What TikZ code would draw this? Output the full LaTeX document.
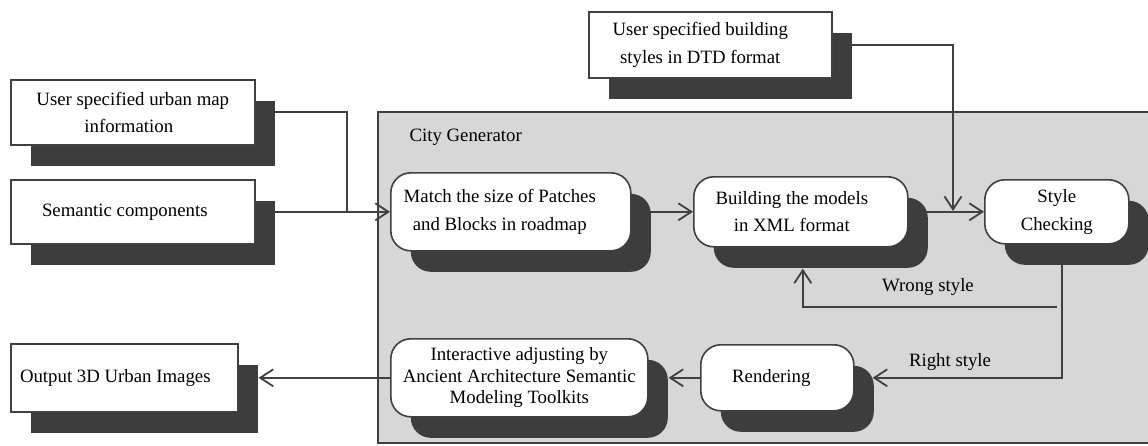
\documentclass[tikz,border=0pt]{standalone}
\usepackage{fontspec}
\setmainfont{Liberation Serif}
\usetikzlibrary{arrows.meta,shadows,calc}
\pgfdeclarelayer{bg}
\pgfdeclarelayer{lines}
\pgfsetlayers{bg,lines,main}
\definecolor{linec}{RGB}{64,64,64}
\definecolor{shadowc}{RGB}{61,61,61}
\definecolor{graybg}{RGB}{215,215,215}
\begin{document}
\begin{tikzpicture}[x=1pt,y=-1pt,
  txt/.style={font=\fontsize{18.8}{27.5}\selectfont, text=black},
  sqbox/.style={txt, draw=linec, line width=1.6pt, fill=white, anchor=north west,
    align=center, inner sep=0pt,
    drop shadow={shadow xshift=20pt, shadow yshift=-21pt, fill=shadowc, opacity=1}},
  rbox/.style={sqbox, rounded corners=20pt},
  conn/.style={draw=linec, line width=1.9pt},
  arr/.style={conn, -{Straight Barb[length=13pt,width=17pt,line width=1.8pt]}}
]
\useasboundingbox (0,0) rectangle (1148,445);

% City Generator container
\begin{pgfonlayer}{bg}
  \fill[graybg] (378,112) rectangle (1148,443);
  \draw[linec, line width=1.8pt] (1148,112) -- (378,112) -- (378,443) -- (1148,443);
\end{pgfonlayer}
\node[txt, anchor=west] (cg) at (406,137) {City Generator};

% rectangular boxes
\node[sqbox, minimum width=244pt, minimum height=65pt] (urban) at (10,79)
  {User specified urban map\\information\hspace*{8pt}};
\node[sqbox, minimum width=244pt, minimum height=64pt] (semantic) at (10,179)
  {Semantic components\hspace*{16pt}};
\node[sqbox, minimum width=227pt, minimum height=68pt] (output) at (10,343)
  {Output 3D Urban Images\hspace*{18pt}};
\node[sqbox, minimum width=243pt, minimum height=66pt] (dtd) at (588,11)
  {User specified building\hspace*{20pt}\\styles in DTD format\hspace*{20pt}};

% rounded process boxes
\node[rbox, minimum width=240pt, minimum height=78pt] (match) at (390,172)
  {Match the size of Patches\hspace*{22pt}\\and Blocks in roadmap\hspace*{22pt}};
\node[rbox, minimum width=214pt, minimum height=70pt] (building) at (693,176)
  {Building the models\hspace*{18pt}\\in XML format\hspace*{18pt}};
\node[rbox, minimum width=144pt, minimum height=64pt] (style) at (984,179)
  {Style\\Checking};
\node[rbox, minimum width=153pt, minimum height=66pt] (rendering) at (700,344)
  {Rendering\hspace*{12pt}};
\node[rbox, minimum width=257pt, minimum height=78pt,
  font=\fontsize{18.8}{21.5}\selectfont] (interactive) at (390,338)
  {Interactive adjusting by\\Ancient Architecture Semantic\\Modeling Toolkits};

% labels
\node[txt] (wrong) at (928,287) {Wrong style};
\node[txt] (right) at (950,362) {Right style};

% connectors
\coordinate (jn) at (347,211);
\coordinate (dtdin) at (953,211);
\coordinate (ws1) at (1057,307);
\begin{pgfonlayer}{lines}
  \draw[conn] (urban.east) -| (jn);
  \draw[arr] (semantic.east) -- (match.west);
  \draw[arr] (match.east) -- (building.west);
  \draw[arr] (building.east) -- (style.west);
  \draw[arr] (dtd.east) -| (dtdin);
  \draw[arr] ([xshift=5pt]style.south) |- ([xshift=18pt]rendering.east);
  \draw[arr] (ws1) -| ([xshift=2pt,yshift=-21pt]building.south);
  \draw[arr] (rendering.west) -- ([xshift=20pt]interactive.east);
  \draw[arr] (interactive.west) -- ([xshift=20pt]output.east);
\end{pgfonlayer}
\end{tikzpicture}
\end{document}
